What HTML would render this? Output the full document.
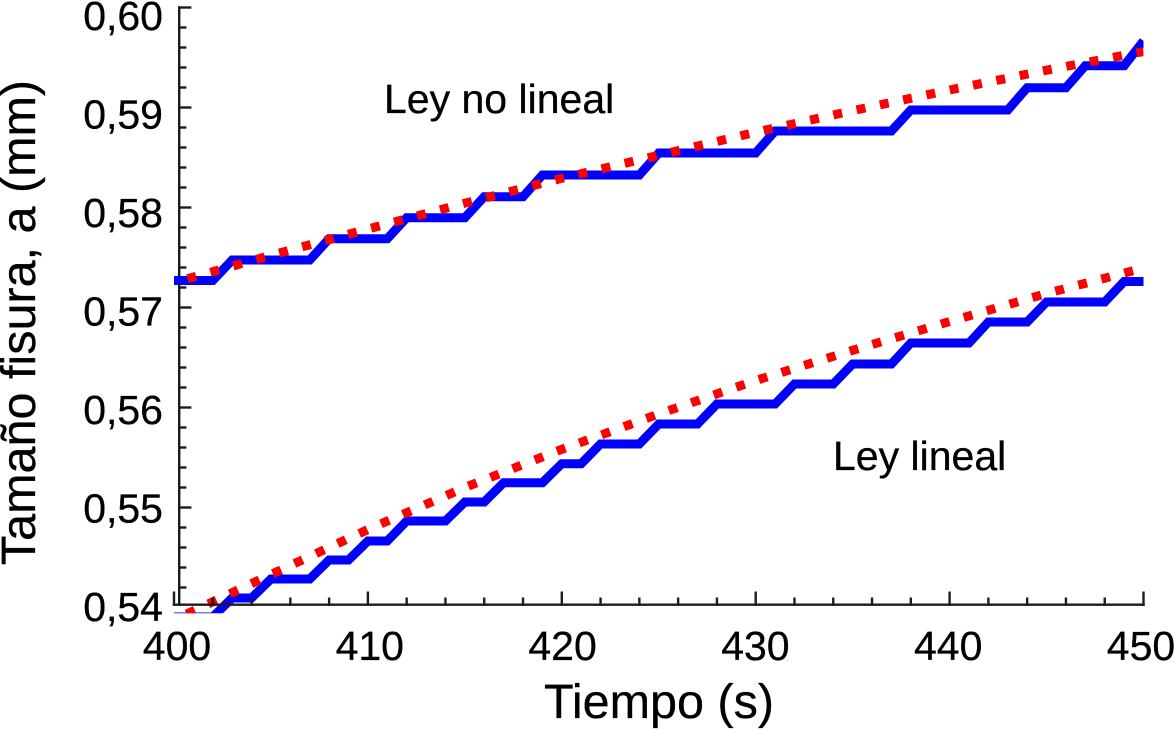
<!DOCTYPE html>
<html lang="es">
<head>
<meta charset="utf-8">
<title>Tamaño fisura vs Tiempo</title>
<style>
html,body{margin:0;padding:0;background:#fff;width:1174px;height:729px;overflow:hidden}
svg{display:block}
text{font-family:"Liberation Sans",Arial,sans-serif;fill:#000;stroke:#000;stroke-width:0.3px}
</style>
</head>
<body>
<svg id="chart" xmlns="http://www.w3.org/2000/svg" width="1174" height="729" viewBox="0 0 1174 729">
  <defs>
    <clipPath id="plot-clip"><rect x="173.5" y="0" width="970" height="613.2"></rect></clipPath>
  </defs>
  <g id="y-axis"></g>
  <g id="series" clip-path="url(#plot-clip)"></g>
  <g id="x-axis"></g>
  <text x="384" y="113" font-size="41">Ley no lineal</text>
  <text x="833" y="470" font-size="41">Ley lineal</text>
  <text x="659" y="718" font-size="48.5" text-anchor="middle">Tiempo (s)</text>
  <text transform="translate(35,322.5) rotate(-90)" font-size="48.5" text-anchor="middle">Tamaño fisura, a (mm)</text>
</svg>
<script>
const upperStepTimes = [400,402,403,407,408,411,412,415,416,418,419,424,425,430,431,437,438,443,444,446,447,449,450];
const upperStepValues = [0.5727,0.5727,0.57475,0.57475,0.57688,0.57688,0.57898,0.57898,0.58108,0.58108,0.58325,0.58325,0.58545,0.58545,0.58765,0.58765,0.58975,0.58975,0.59198,0.59198,0.59418,0.59418,0.59665];
const lowerStepTimes = [400,402,403,404,405,407,408,409,410,411,412,414,415,416,417,419,420,421,422,424,425,427,428,431,432,434,435,437,438,441,442,444,445,448,449,450];
const lowerStepValues = [0.53905,0.53905,0.54095,0.54095,0.54285,0.54285,0.54475,0.54475,0.54665,0.54665,0.54865,0.54865,0.55055,0.55055,0.55248,0.55248,0.55438,0.55438,0.55635,0.55635,0.55835,0.55835,0.56035,0.56035,0.56235,0.56235,0.56435,0.56435,0.56645,0.56645,0.56855,0.56855,0.57055,0.57055,0.5726,0.5726];
const curveTimes = [400,405,410,415,420,425,430,435,440,445,450];
const upperCurveValues = [0.5725,0.57522,0.57785,0.58043,0.58292,0.58522,0.58753,0.58968,0.59175,0.59373,0.5956];
const lowerCurveValues = [0.53875,0.5433,0.5478,0.5520,0.55582,0.55935,0.5627,0.56572,0.5686,0.57140,0.57395];
const xLabels = ["400","410","420","430","440","450"];
const yLabels = ["0,54","0,55","0,56","0,57","0,58","0,59","0,60"];
const xTickValues = [400,402,404,406,408,410,412,414,416,418,420,422,424,426,428,430,432,434,436,438,440,442,444,446,448,450];
const yTickValues = [0.542,0.544,0.546,0.548,0.55,0.552,0.554,0.556,0.558,0.56,0.562,0.564,0.566,0.568,0.57,0.572,0.574,0.576,0.578,0.58,0.582,0.584,0.586,0.588,0.59,0.592,0.594,0.596,0.598,0.6];

const NS = 'http://www.w3.org/2000/svg';
const seriesGroup = document.getElementById('series');
const xAxisGroup = document.getElementById('x-axis');
const yAxisGroup = document.getElementById('y-axis');

function xScale(t){ return 174 + (t - 400) * 19.39; }
function yScale(v){ return 7.5 + (0.6 - v) * 10000; }
function xLabelPos(t){ return 177 + (t - 400) * 19.28; }
function yLabelBase(v){ return 30 + (0.6 - v) * 9850; }

function pointsOf(ts, vs){
  return ts.map(function(t, i){ return xScale(t).toFixed(2) + ',' + yScale(vs[i]).toFixed(2); }).join(' ');
}

function drawStep(ts, vs, name){
  const el = document.createElementNS(NS, 'polyline');
  
  
  el.setAttribute('points', pointsOf(ts, vs));
  el.setAttribute('fill', 'none');
  el.setAttribute('stroke', '#0000ff');
  el.setAttribute('stroke-width', '9');
  el.setAttribute('stroke-linejoin', 'miter');
  seriesGroup.appendChild(el);
}

function drawCurve(ts, vs, name){
  const el = document.createElementNS(NS, 'polyline');
  
  
  el.setAttribute('points', pointsOf(ts, vs));
  el.setAttribute('fill', 'none');
  el.setAttribute('stroke', '#ff0000');
  el.setAttribute('stroke-width', '9');
  el.setAttribute('stroke-dasharray', '9 14.8');
  el.setAttribute('stroke-dashoffset', '9.8');
  seriesGroup.appendChild(el);
}

drawStep(upperStepTimes, upperStepValues, 'upper-step-series');
drawStep(lowerStepTimes, lowerStepValues, 'lower-step-series');
drawCurve(curveTimes, upperCurveValues, 'upper-dotted-curve');
drawCurve(curveTimes, lowerCurveValues, 'lower-dotted-curve');

function axisLine(group, x1, y1, x2, y2, name){
  const el = document.createElementNS(NS, 'line');
  
  
  el.setAttribute('x1', x1);
  el.setAttribute('y1', y1);
  el.setAttribute('x2', x2);
  el.setAttribute('y2', y2);
  el.setAttribute('stroke', '#1c1c1c');
  el.setAttribute('stroke-width', '2.4');
  el.setAttribute('stroke-linecap', 'square');
  group.appendChild(el);
}

const axisY = 604.7;
const axisX = 179.2;
axisLine(xAxisGroup, xScale(400), axisY, xScale(450), axisY, 'x-axis-line');
axisLine(yAxisGroup, axisX, yScale(0.6), axisX, axisY, 'y-axis-line');

xTickValues.forEach(function(t){
  const major = Math.round(t) % 10 === 0;
  axisLine(xAxisGroup, xScale(t), axisY, xScale(t), axisY - (major ? 12 : 6), major ? 'x-major-tick' : 'x-minor-tick');
});

yTickValues.forEach(function(v){
  const major = Math.round(v * 1000) % 10 === 0;
  axisLine(yAxisGroup, axisX, yScale(v), axisX + (major ? 11 : 6), yScale(v), major ? 'y-major-tick' : 'y-minor-tick');
});

xLabels.forEach(function(label){
  const el = document.createElementNS(NS, 'text');
  
  
  el.setAttribute('x', xLabelPos(Number(label)));
  el.setAttribute('y', 660);
  el.setAttribute('font-size', '41');
  el.setAttribute('text-anchor', 'middle');
  el.textContent = label;
  xAxisGroup.appendChild(el);
});

yLabels.forEach(function(label){
  const el = document.createElementNS(NS, 'text');
  
  
  el.setAttribute('x', 163);
  el.setAttribute('y', yLabelBase(Number(label.replace(',', '.'))));
  el.setAttribute('font-size', '41');
  el.setAttribute('text-anchor', 'end');
  el.textContent = label;
  yAxisGroup.appendChild(el);
});
</script>
</body>
</html>
